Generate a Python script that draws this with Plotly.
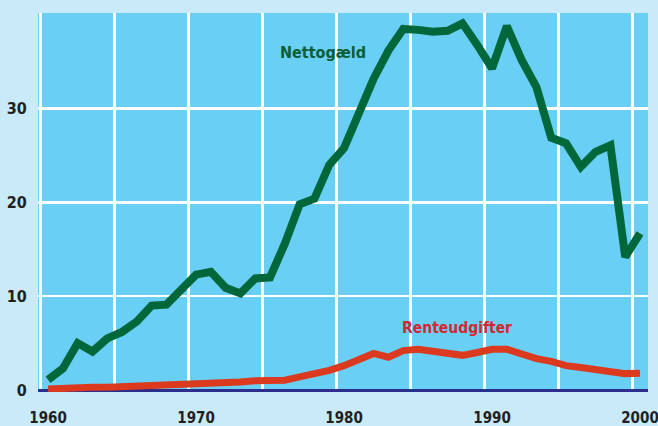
import plotly.graph_objects as go

years = list(range(1960, 2001))

nettogaeld = [1.1, 2.3, 5.0, 4.1, 5.5, 6.2, 7.3, 9.0, 9.1, 10.7,
              12.3, 12.6, 10.9, 10.3, 11.9, 12.0, 15.6, 19.8, 20.4, 24.0,
              25.8, 29.5, 33.2, 36.2, 38.5, 38.4, 38.2, 38.3, 39.1, 36.8,
              34.3, 38.8, 35.2, 32.3, 26.9, 26.3, 23.8, 25.4, 26.1, 14.2,
              16.7]

renteudgifter = [0.1, 0.2, 0.3, 0.3, 0.3, 0.35, 0.4, 0.4, 0.45, 0.5,
                 0.55, 0.65, 0.8, 0.85, 1.0, 1.05, 1.05, 1.4, 1.7, 2.1,
                 2.6, 3.2, 3.9, 3.5, 4.2, 4.35, 4.1, 3.9, 3.7, 4.0,
                 4.35, 4.35, 3.8, 3.35, 3.05, 2.6, 2.4, 2.15, 1.9, 1.75,
                 1.8]

x_ticks = [1960, 1970, 1980, 1990, 2000]
y_ticks = [0, 10, 20, 30]

FONT = "DejaVu Sans Condensed, Liberation Sans, sans-serif"
GREEN = "#00673a"
RED = "#dc3a1f"

fig = go.Figure()
fig.add_trace(go.Scatter(x=years, y=nettogaeld, mode="lines", name="Nettogæld",
                         line=dict(color=GREEN, width=8), showlegend=False,
                         hoverinfo="skip"))
fig.add_trace(go.Scatter(x=years, y=renteudgifter, mode="lines", name="Renteudgifter",
                         line=dict(color=RED, width=7), showlegend=False,
                         hoverinfo="skip"))

fig.add_annotation(x=1978.6, y=36.0, text="Nettogæld", showarrow=False,
                   font=dict(family=FONT, size=16, color="#0b5e37", weight="bold"))
fig.add_annotation(x=1987.6, y=6.6, text="Renteudgifter", showarrow=False,
                   font=dict(family=FONT, size=15.5, color="#d2282f", weight="bold"))

fig.update_layout(
    width=658, height=426,
    margin=dict(l=38, r=10, t=13, b=34),
    paper_bgcolor="#c8eaf9",
    plot_bgcolor="#6acff5",
    font=dict(family=FONT, size=15, color="#231f20", weight="bold"),
    xaxis=dict(
        range=[1959.32, 2000.54],
        automargin=False,
        tickmode="array", tickvals=x_ticks,
        ticklabeloverflow="allow",
        showgrid=False, zeroline=False, showline=False,
        ticks="outside", ticklen=12, tickcolor="rgba(0,0,0,0)",
        minor=dict(tick0=1964.5, dtick=5, showgrid=True,
                   gridcolor="white", gridwidth=2.5, ticks=""),
    ),
    yaxis=dict(
        range=[-0.21, 40.2],
        automargin=False,
        tickmode="array", tickvals=y_ticks,
        ticklabeloverflow="allow",
        tickfont=dict(size=16),
        showgrid=True, gridcolor="white", gridwidth=2.5,
        zeroline=True, zerolinecolor="#2b2e8c", zerolinewidth=3,
        showline=False,
        ticks="outside", ticklen=7, tickcolor="rgba(0,0,0,0)",
    ),
)

fig.write_html("out.html",
               config={"displayModeBar": False, "staticPlot": True},
               post_script="document.body.style.margin='0';document.body.style.padding='0';document.body.style.overflow='hidden';")
